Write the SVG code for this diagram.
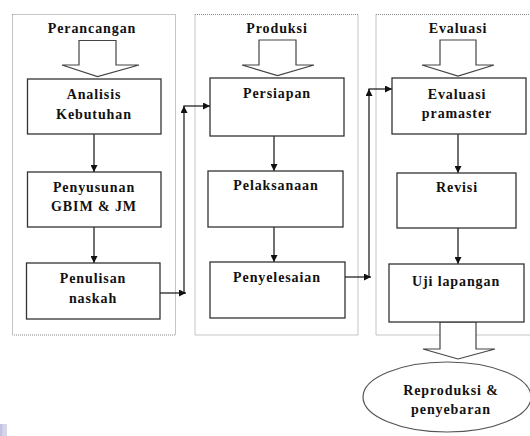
<svg xmlns="http://www.w3.org/2000/svg" width="530" height="436" viewBox="0 0 530 436">
<defs>
<style>
.panel{fill:none;stroke:#8a8a8a;stroke-width:1;stroke-dasharray:1 1}
.box{fill:#fff;stroke:#333;stroke-width:1.3}
.barrow{fill:#fff;stroke:#444;stroke-width:1.2;stroke-linejoin:miter}
.conn{fill:none;stroke:#111;stroke-width:1.2}
.t{font-family:'Liberation Serif','DejaVu Serif',serif;font-weight:bold;font-size:14px;letter-spacing:0.9px;fill:#111;text-anchor:middle}
</style>
<marker id="ah" viewBox="0 0 10 10" refX="10" refY="5" markerWidth="8" markerHeight="7" markerUnits="userSpaceOnUse" orient="auto">
<path d="M0,0 L10,5 L0,10 Z" fill="#111"/>
</marker>
</defs>
<rect x="0" y="0" width="530" height="436" fill="#fff"/>
<rect x="0" y="424" width="7" height="12" fill="#d6d6ea"/>
<rect x="0" y="424" width="2.5" height="12" fill="#c4c4e0"/>

<g id="panel-perancangan">
<rect class="panel" x="12.5" y="14.5" width="163" height="320.5"/>
<text class="t" x="92" y="33" font-family="Liberation Serif, serif">Perancangan</text>
<polygon class="barrow" points="79,40.5 116,40.5 116,65 139,65 97.5,76.5 62,65 79,65"/>
</g>
<g id="panel-produksi">
<rect class="panel" x="195" y="14.5" width="163" height="320.5"/>
<text class="t" x="277" y="33">Produksi</text>
<polygon class="barrow" points="259,40 296,40 296,65 314,65 277.5,75.5 242,65 259,65"/>
</g>
<g id="panel-evaluasi">
<rect class="panel" x="376" y="14.5" width="160" height="320.5"/>
<text class="t" x="458" y="33">Evaluasi</text>
<polygon class="barrow" points="440,40 476,40 476,65 494,65 458,76 422,65 440,65"/>
</g>

<g id="connectors">
<line class="conn" x1="94" y1="134" x2="94" y2="172" marker-end="url(#ah)"/>
<line class="conn" x1="94" y1="227" x2="94" y2="263" marker-end="url(#ah)"/>
<line class="conn" x1="274" y1="136" x2="274" y2="171" marker-end="url(#ah)"/>
<line class="conn" x1="274" y1="227" x2="274" y2="262" marker-end="url(#ah)"/>
<line class="conn" x1="458" y1="134" x2="458" y2="173" marker-end="url(#ah)"/>
<line class="conn" x1="458" y1="228" x2="458" y2="264" marker-end="url(#ah)"/>
<line class="conn" x1="160" y1="293" x2="186" y2="293" marker-end="url(#ah)"/>
<line class="conn" x1="184" y1="293.6" x2="184" y2="106" marker-end="url(#ah)"/>
<line class="conn" x1="183.4" y1="106" x2="210" y2="106" marker-end="url(#ah)"/>
<line class="conn" x1="345" y1="277" x2="371" y2="277" marker-end="url(#ah)"/>
<line class="conn" x1="369" y1="277.6" x2="369" y2="89" marker-end="url(#ah)"/>
<line class="conn" x1="368.4" y1="89" x2="392" y2="89" marker-end="url(#ah)"/>
<polygon class="barrow" points="440,322 476,322 476,349 495,349 458,359 423,349 440,349"/>
</g>

<g id="node-analisis">
<rect class="box" x="27.5" y="79" width="133.5" height="55"/>
<text class="t" x="94" y="99">Analisis</text>
<text class="t" x="94" y="119">Kebutuhan</text>
</g>
<g id="node-penyusunan">
<rect class="box" x="27.5" y="172" width="133.5" height="55"/>
<text class="t" x="94" y="192">Penyusunan</text>
<text class="t" x="94" y="211">GBIM &amp; JM</text>
</g>
<g id="node-penulisan">
<rect class="box" x="26.5" y="263" width="133.5" height="56"/>
<text class="t" x="93" y="283">Penulisan</text>
<text class="t" x="93" y="303">naskah</text>
</g>
<g id="node-persiapan">
<rect class="box" x="210" y="78" width="134" height="58"/>
<text class="t" x="277" y="98">Persiapan</text>
</g>
<g id="node-pelaksanaan">
<rect class="box" x="208" y="171" width="135" height="56"/>
<text class="t" x="276" y="190">Pelaksanaan</text>
</g>
<g id="node-penyelesaian">
<rect class="box" x="210" y="262" width="135" height="56"/>
<text class="t" x="277" y="282">Penyelesaian</text>
</g>
<g id="node-evaluasi-pramaster">
<rect class="box" x="392" y="78" width="134" height="56"/>
<text class="t" x="457" y="99">Evaluasi</text>
<text class="t" x="457" y="118">pramaster</text>
</g>
<g id="node-revisi">
<rect class="box" x="397" y="173" width="119" height="55"/>
<text class="t" x="457" y="192">Revisi</text>
</g>
<g id="node-uji-lapangan">
<rect class="box" x="389" y="264" width="135" height="58"/>
<text class="t" x="456" y="286">Uji lapangan</text>
</g>
<g id="node-reproduksi">
<ellipse cx="447" cy="397" rx="84" ry="35" fill="#fff" stroke="#555" stroke-width="1.2"/>
<text class="t" x="451" y="395">Reproduksi &amp;</text>
<text class="t" x="451" y="414">penyebaran</text>
</g>
</svg>
